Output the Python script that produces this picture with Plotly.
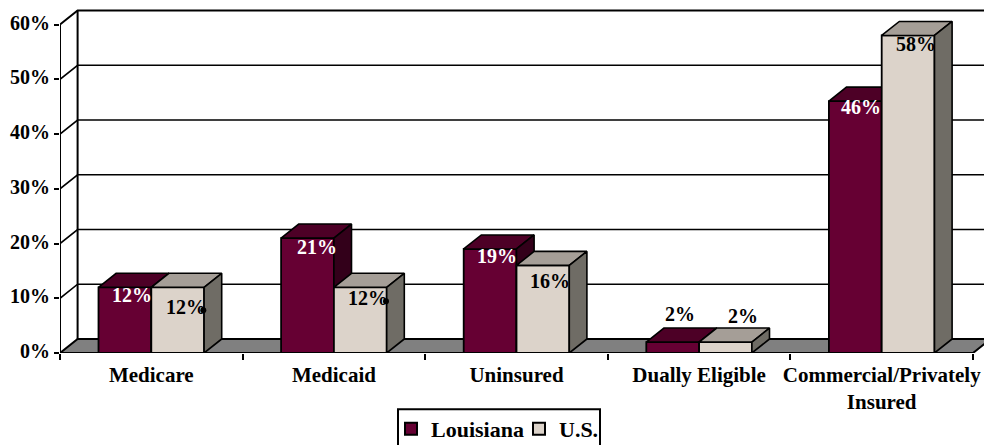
import plotly.graph_objects as go

# ---- data ----
categories = ["Medicare", "Medicaid", "Uninsured", "Dually Eligible", "Commercial/Privately<br>Insured"]
louisiana = [12, 21, 19, 2, 46]
us = [12, 12, 16, 2, 58]
y_ticks = [0, 10, 20, 30, 40, 50, 60]

# ---- geometry (pixels of the 984x445 window) ----
W, H = 984, 445
X0_PX, Y0_PX = 60.0, 352.7
CAT_PX, TEN_PX = 182.6, 54.7
DEPTH_X_PX, DEPTH_Y_PX = 17.6, 14.0
BAR_PX = 52.8

dx = DEPTH_X_PX / CAT_PX
dy = DEPTH_Y_PX / TEN_PX * 10
bar_w = BAR_PX / CAT_PX
x_max = (W - X0_PX) / CAT_PX
y_max = Y0_PX / TEN_PX * 10
n = len(categories)
FONT = "Liberation Serif"
INK = "#000000"

def X(px):
    return (px - X0_PX) / CAT_PX

def Y(px):
    return (Y0_PX - px) / TEN_PX * 10

fig = go.Figure()

def poly(xs, ys, fill, ax="", width=1.6):
    fig.add_trace(go.Scatter(
        x=xs + xs[:1], y=ys + ys[:1], mode="lines", fill="toself", fillcolor=fill,
        line=dict(color=INK, width=width), hoverinfo="skip", showlegend=False,
        xaxis="x" + ax, yaxis="y" + ax))

def line(xs, ys, width=1.6):
    fig.add_trace(go.Scatter(x=xs, y=ys, mode="lines", line=dict(color=INK, width=width),
                             hoverinfo="skip", showlegend=False))

# layer 0: walls, floor, grid
for v in y_ticks[1:]:
    line([0, dx, x_max + 1], [v, v + dy, v + dy], 2.0 if v == 60 else 1.6)
line([0, 0], [0, 60], 2.0)
line([dx, dx], [dy, 60 + dy], 2.0)
poly([0, dx, n + dx, n], [0, dy, dy, 0], "#808080", width=2.0)

# layer 1 (x2/y2): Louisiana; layer 2 (x3/y3): U.S.
def series(name, values, centres, front, top, side, ax):
    fig.add_trace(go.Bar(
        x=centres, y=values, width=bar_w, name=name, xaxis="x" + ax, yaxis="y" + ax,
        marker=dict(color=front, line=dict(color=INK, width=1.8)), hoverinfo="skip"))
    for c, v in zip(centres, values):
        l, r = c - bar_w / 2, c + bar_w / 2
        poly([l, r, r + dx, l + dx], [v, v, v + dy, v + dy], top, ax)
        poly([r, r + dx, r + dx, r], [0, dy, v + dy, v], side, ax)

la_centres = [i + 0.5 - bar_w / 2 for i in range(n)]
us_centres = [i + 0.5 + bar_w / 2 for i in range(n)]
series("Louisiana", louisiana, la_centres, "#660033", "#4D0026", "#33001A", "2")
series("U.S.", us, us_centres, "#DCD3CA", "#A59E97", "#6F6C65", "3")

# data labels
label_px = [(132, 297, "#FFFFFF"), (317, 249, "#FFFFFF"), (497, 258, "#FFFFFF"), (680, 316, INK), (861, 109, "#FFFFFF"),
            (186, 309, INK), (368, 300, INK), (550, 283, INK), (743, 318, INK), (916, 46, INK)]
label_text = [f"{v}%" for v in louisiana + us]
fig.add_trace(go.Scatter(
    x=[X(p[0]) for p in label_px], y=[Y(p[1]) for p in label_px], text=label_text,
    mode="text", textposition="middle center",
    textfont=dict(family=FONT, size=20, weight=700, color=[p[2] for p in label_px]),
    hoverinfo="skip", showlegend=False, xaxis="x3", yaxis="y3"))

# two small stray dots beside the U.S. labels
dot_px = [(203.3, 310), (386, 301)]
fig.add_trace(go.Scatter(
    x=[X(p[0]) for p in dot_px], y=[Y(p[1]) for p in dot_px], mode="markers",
    marker=dict(color=INK, size=6), hoverinfo="skip", showlegend=False, xaxis="x3", yaxis="y3"))

hidden = dict(range=[0, x_max], overlaying="x", visible=False, fixedrange=True)
hidden_y = dict(range=[0, y_max], overlaying="y", visible=False, fixedrange=True)

fig.update_layout(
    width=W, height=H, margin=dict(l=int(X0_PX), r=0, t=0, b=H - Y0_PX, pad=0),
    paper_bgcolor="white", plot_bgcolor="white", barmode="overlay", showlegend=True,
    xaxis=dict(range=[0, x_max], tickmode="array", tickvals=[i + 0.5 for i in range(n)], ticktext=categories,
               ticks="", showgrid=False, zeroline=False, showline=False, ticklabelstandoff=7,
               automargin=False,
               tickfont=dict(family=FONT, size=21, weight=700, color=INK),
               minor=dict(tickmode="array", tickvals=list(range(n + 1)), ticks="outside", ticklen=6,
                          tickwidth=1.5, tickcolor=INK, showgrid=False)),
    yaxis=dict(range=[0, y_max], tickmode="array", tickvals=y_ticks, ticktext=[f"{v}%" for v in y_ticks],
               ticks="outside", ticklen=5, tickwidth=2, tickcolor=INK, showgrid=False, zeroline=False,
               automargin=False, ticklabelshift=-2,
               showline=False, tickfont=dict(family=FONT, size=20, weight=700, color=INK)),
    xaxis2=hidden, yaxis2=hidden_y, xaxis3=hidden, yaxis3=hidden_y,
    legend=dict(orientation="h", xref="container", yref="container",
                x=391 / W, y=1 - 408 / H, xanchor="left", yanchor="top",
                bgcolor="rgba(0,0,0,0)", borderwidth=0,
                font=dict(family=FONT, size=22, weight=700, color=INK),
                itemsizing="constant", itemwidth=30, traceorder="normal",
                entrywidth=83, entrywidthmode="pixels"),
    shapes=[dict(type="rect", xref="paper", yref="paper", layer="below",
                 x0=(398 - X0_PX) / (W - X0_PX), x1=(600 - X0_PX) / (W - X0_PX),
                 y0=(Y0_PX - 446) / Y0_PX, y1=(Y0_PX - 409) / Y0_PX,
                 line=dict(color=INK, width=2), fillcolor="white")],
)

fig.write_html("out.html", config=dict(displayModeBar=False),
               post_script="document.body.style.margin='0';")
